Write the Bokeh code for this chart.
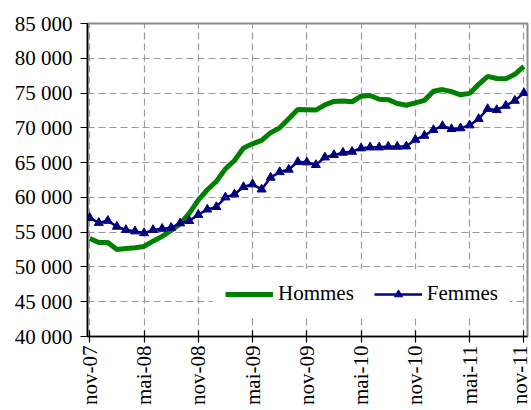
import math
from bokeh.plotting import figure
from bokeh.models import FixedTicker, Legend, LegendItem, Range1d
from bokeh.embed import file_html
from bokeh.resources import INLINE

# ---- data ----
months = list(range(49))  # nov-07 .. nov-11
hommes = [54100, 53500, 53500, 52500, 52650, 52750, 52950, 53700, 54400, 55250,
          56200, 57700, 59600, 61100, 62300, 64100, 65300, 67100, 67700, 68200,
          69300, 70000, 71300, 72650, 72600, 72550, 73300, 73800, 73850, 73750,
          74550, 74650, 74100, 74050, 73500, 73250, 73600, 73950, 75250, 75500,
          75200, 74750, 74950, 76250, 77400, 77100, 77050, 77700, 78850]
femmes = [57050, 56350, 56650, 55800, 55330, 55130, 54870, 55330, 55500, 55650,
          56280, 56620, 57500, 58270, 58630, 60010, 60450, 61500, 61890, 61150,
          62850, 63650, 64000, 65100, 65050, 64670, 65760, 66100, 66440, 66580,
          67060, 67200, 67200, 67300, 67300, 67340, 68300, 68880, 69700, 70270,
          69840, 69950, 70370, 71280, 72720, 72570, 73190, 73910, 75010]
x_ticks = [0, 6, 12, 18, 24, 30, 36, 42, 48]
x_tick_labels = ["nov-07", "mai-08", "nov-08", "mai-09", "nov-09",
                 "mai-10", "nov-10", "mai-11", "nov-11"]
y_ticks = [40000, 45000, 50000, 55000, 60000, 65000, 70000, 75000, 80000, 85000]
y_tick_labels = ["40 000", "45 000", "50 000", "55 000", "60 000",
                 "65 000", "70 000", "75 000", "80 000", "85 000"]

FONT = "'Liberation Serif'"

p = figure(width=531, height=410, output_backend="svg", toolbar_location=None,
           x_range=Range1d(-0.25, 48.4), y_range=Range1d(40000, 85000),
           min_border_left=87, min_border_right=4, min_border_top=23,
           min_border_bottom=74)
p.background_fill_color = "white"
p.border_fill_color = "white"
p.outline_line_color = "#8c8c8c"
p.outline_line_width = 2

# axes
p.xaxis.ticker = FixedTicker(ticks=x_ticks)
p.xaxis.major_label_overrides = {t: l for t, l in zip(x_ticks, x_tick_labels)}
p.xaxis.major_label_orientation = math.pi / 2
p.xaxis.major_tick_in = 6
p.xaxis.major_tick_out = 6
p.xaxis.major_label_standoff = 3
p.yaxis.ticker = FixedTicker(ticks=y_ticks)
p.yaxis.major_label_overrides = {t: l for t, l in zip(y_ticks, y_tick_labels)}
p.yaxis.major_tick_in = 0
p.yaxis.major_tick_out = 7
p.yaxis.major_label_standoff = 8
for ax in (p.xaxis, p.yaxis):
    ax.axis_line_color = "black"
    ax.axis_line_width = 1.6
    ax.major_tick_line_color = "black"
    ax.major_tick_line_width = 1.2
    ax.minor_tick_line_color = None
    ax.major_label_text_font = FONT
    ax.major_label_text_font_size = "21px"
    ax.major_label_text_color = "black"

# grids
for g in (p.xgrid, p.ygrid):
    g.grid_line_color = "#9a9a9a"
    g.grid_line_width = 1.2
    g.grid_line_dash = "7 4"

# series
rh = p.line(months, hommes, line_color="#008000", line_width=5)
rfl = p.line(months, femmes, line_color="#000080", line_width=2.5)
rfs = p.scatter(months, femmes, marker="triangle", size=9,
                fill_color="#000080", line_color="#000080")

legend = Legend(items=[LegendItem(label="Hommes", renderers=[rh]),
                       LegendItem(label="Femmes", renderers=[rfl, rfs])],
                location=(126, 18), orientation="horizontal")
legend.label_text_font = FONT
legend.label_text_font_size = "21px"
legend.label_text_color = "black"
legend.glyph_width = 48
legend.glyph_height = 20
legend.label_standoff = 5
legend.spacing = 20
legend.padding = 12
legend.margin = 0
legend.border_line_alpha = 0
legend.background_fill_color = "white"
legend.background_fill_alpha = 1
p.add_layout(legend)

open("out.html", "w").write(file_html(p, INLINE))
